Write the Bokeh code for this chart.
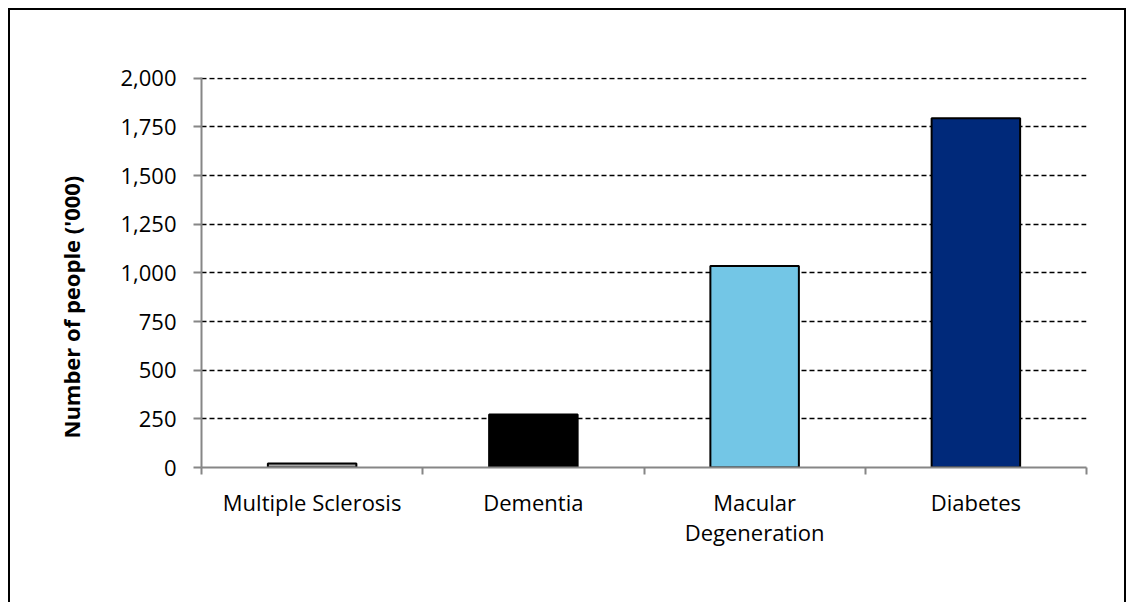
from bokeh.plotting import figure
from bokeh.models import FixedTicker, NumeralTickFormatter, Range1d, ColumnDataSource, Title
from bokeh.embed import file_html
from bokeh.resources import INLINE

categories = ["Multiple Sclerosis", "Dementia", "Macular\nDegeneration", "Diabetes"]
values = [20, 272, 1036, 1795]
colors = ["#A6A6A6", "#000000", "#73C6E6", "#00297A"]
y_ticks = [0, 250, 500, 750, 1000, 1250, 1500, 1750, 2000]
y_title = "Number of people ('000)"

FONT = "Open Sans"

x_centers = [i + 0.5 for i in range(len(categories))]
src = ColumnDataSource(dict(x=x_centers, top=values, color=colors))

p = figure(width=1128, height=602, output_backend="svg", toolbar_location=None,
           x_range=Range1d(0, len(categories)), y_range=Range1d(0, 2004),
           min_border_left=201, min_border_right=42, min_border_top=77, min_border_bottom=135)
p.styles = {"box-shadow": ("inset 8px 8px 0 0 white, inset -2px 0 0 0 white, "
                           "inset 10px 10px 0 0 black, inset -4px 0 0 0 black")}
p.outline_line_color = None
p.background_fill_color = "white"
p.border_fill_color = None

p.vbar(x="x", top="top", width=0.4, bottom=0, fill_color="color", line_color="black",
       line_width=2, source=src)

# y axis
p.yaxis.ticker = FixedTicker(ticks=y_ticks)
p.yaxis.formatter = NumeralTickFormatter(format="0,0")
p.yaxis.axis_line_color = "#868686"
p.yaxis.axis_line_width = 2
p.yaxis.major_tick_line_color = "#868686"
p.yaxis.major_tick_line_width = 2
p.yaxis.major_tick_out = 8
p.yaxis.major_tick_in = 0
p.yaxis.minor_tick_line_color = None
p.yaxis.major_label_standoff = 17
p.yaxis.major_label_text_font = FONT
p.yaxis.major_label_text_font_size = "22px"
p.yaxis.major_label_text_color = "black"

title = Title(text=y_title, align="left", offset=29, standoff=64,
              text_font=FONT, text_font_style="bold", text_font_size="22px",
              text_color="black")
p.add_layout(title, "left")

# x axis
p.xaxis.ticker = FixedTicker(ticks=x_centers, minor_ticks=list(range(len(categories) + 1)))
p.xaxis.major_label_overrides = {c: lab for c, lab in zip(x_centers, categories)}
p.xaxis.axis_line_color = "#868686"
p.xaxis.axis_line_width = 2
p.xaxis.major_tick_line_color = None
p.xaxis.minor_tick_line_color = "#868686"
p.xaxis.minor_tick_line_width = 2
p.xaxis.minor_tick_out = 7
p.xaxis.minor_tick_in = 0
p.xaxis.major_label_standoff = 12
p.xaxis.major_label_text_font = FONT
p.xaxis.major_label_text_font_size = "22px"
p.xaxis.major_label_text_color = "black"
p.xaxis.major_label_text_line_height = 1.0

# grid
p.xgrid.grid_line_color = None
p.ygrid.ticker = FixedTicker(ticks=y_ticks[1:])
p.ygrid.grid_line_color = "black"
p.ygrid.grid_line_dash = "5 3"
p.ygrid.grid_line_width = 1.5

open("out.html", "w").write(file_html(p, INLINE))
